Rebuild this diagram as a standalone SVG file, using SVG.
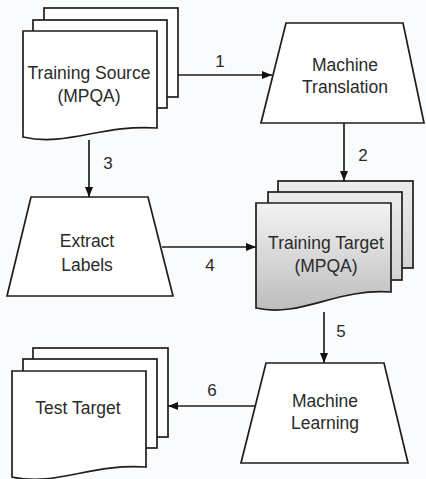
<svg xmlns="http://www.w3.org/2000/svg" width="426" height="479" viewBox="0 0 426 479">
<defs>
<style>
.s{fill:#fff;stroke:#1e1e1e;stroke-width:1.7;stroke-linejoin:miter}
.g1{fill:url(#gf);stroke:#1e1e1e;stroke-width:1.7}
.g2{fill:url(#gb);stroke:#1e1e1e;stroke-width:1.7}
.t{font-family:"Liberation Sans",Arial,sans-serif;font-size:17.5px;fill:#2a2a2a;text-anchor:middle}
.n{font-family:"Liberation Sans",Arial,sans-serif;font-size:17px;fill:#2a2a2a;text-anchor:middle}
.c{fill:none;stroke:#1e1e1e;stroke-width:1.7}
</style>
<linearGradient id="gf" x1="0" y1="0" x2="0" y2="1">
<stop offset="0" stop-color="#f3f3f3"/>
<stop offset="1" stop-color="#bdbdbd"/>
</linearGradient>
<linearGradient id="gb" x1="0" y1="0" x2="0" y2="1">
<stop offset="0" stop-color="#ececec"/>
<stop offset="1" stop-color="#d2d2d2"/>
</linearGradient>
<marker id="ah" viewBox="0 0 10 8" refX="10" refY="4" markerWidth="10" markerHeight="8" markerUnits="userSpaceOnUse" orient="auto">
<path d="M0,0 L10,4 L0,8 Z" fill="#111"/>
</marker>
</defs>
<rect width="426" height="479" fill="#f9fbfc"/>

<g id="training-source">
<rect class="s" x="44" y="8" width="134" height="89"/>
<rect class="s" x="33" y="20" width="134" height="88"/>
<path class="s" d="M23,31 H157 V128 C102,124 67,147 23,137 Z"/>
<text class="t" x="89" y="79">Training Source</text>
<text class="t" x="89" y="102">(MPQA)</text>
</g>

<g id="machine-translation">
<path class="s" d="M286,23 H403 L424,123 H261 Z"/>
<text class="t" x="345" y="71">Machine</text>
<text class="t" x="345" y="93">Translation</text>
</g>

<g id="extract-labels">
<path class="s" d="M31,197 H148 L173,296 H7 Z"/>
<text class="t" x="87" y="247">Extract</text>
<text class="t" x="87" y="271">Labels</text>
</g>

<g id="training-target">
<rect class="g2" x="278" y="181" width="135" height="87"/>
<rect class="g2" x="268" y="192" width="134" height="88"/>
<path class="g1" d="M256,203 H391 V292 C336,288 301,318 256,308 Z"/>
<text class="t" x="326" y="249">Training Target</text>
<text class="t" x="326" y="272">(MPQA)</text>
</g>

<g id="machine-learning">
<path class="s" d="M266,363 H384 L408,463 H241 Z"/>
<text class="t" x="325" y="407">Machine</text>
<text class="t" x="325" y="429">Learning</text>
</g>

<g id="test-target">
<rect class="s" x="33" y="348" width="135" height="89"/>
<rect class="s" x="23" y="359" width="134" height="89"/>
<path class="s" d="M12,371 H146 V467 C91,463 56,487 12,477 Z"/>
<text class="t" x="78" y="414">Test Target</text>
</g>

<g id="connectors">
<line class="c" x1="178" y1="75" x2="272" y2="75" marker-end="url(#ah)"/>
<line class="c" x1="344" y1="123" x2="344" y2="181" marker-end="url(#ah)"/>
<line class="c" x1="89" y1="140" x2="89" y2="197" marker-end="url(#ah)"/>
<line class="c" x1="162" y1="247" x2="256" y2="247" marker-end="url(#ah)"/>
<line class="c" x1="324" y1="312" x2="324" y2="363" marker-end="url(#ah)"/>
<line class="c" x1="255" y1="406" x2="168" y2="406" marker-end="url(#ah)"/>
<text class="n" x="220" y="67">1</text>
<text class="n" x="363" y="161">2</text>
<text class="n" x="108" y="169">3</text>
<text class="n" x="210" y="271">4</text>
<text class="n" x="341" y="337">5</text>
<text class="n" x="212" y="396">6</text>
</g>
</svg>
